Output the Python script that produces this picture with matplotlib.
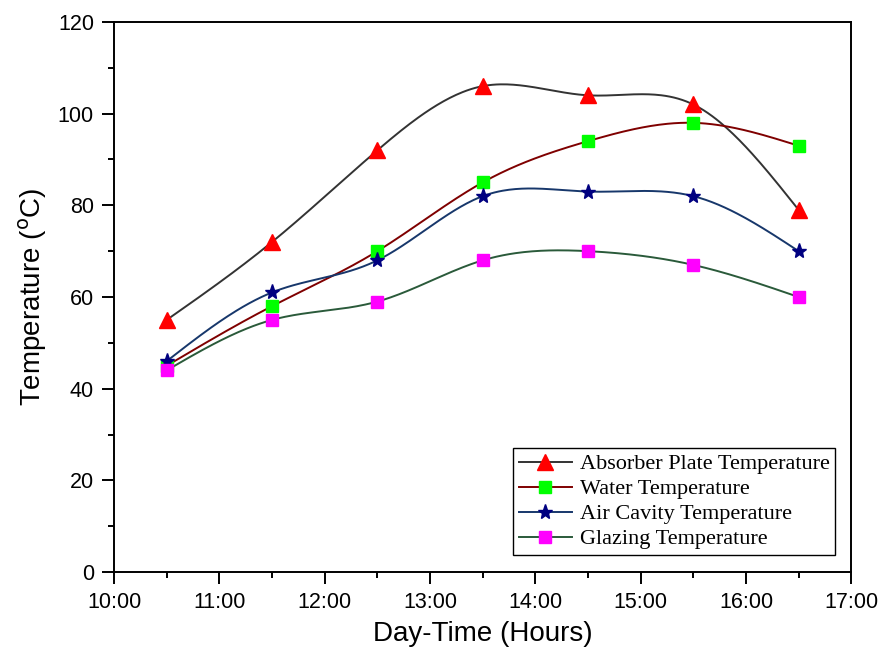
import numpy as np
import matplotlib
matplotlib.use('Agg')
import matplotlib.pyplot as plt
from matplotlib.ticker import MultipleLocator, FuncFormatter

hours = [10.5, 11.5, 12.5, 13.5, 14.5, 15.5, 16.5]
absorber = [55, 72, 92, 106, 104, 102, 79]
water = [45, 58, 70, 85, 94, 98, 93]
air_cavity = [46, 61, 68, 82, 83, 82, 70]
glazing = [44, 55, 59, 68, 70, 67, 60]


def spline(x, y, n=300):
    # natural cubic spline, like Origin's "Spline" connect
    x = np.asarray(x, float)
    y = np.asarray(y, float)
    k = len(x)
    h = np.diff(x)
    A = np.zeros((k, k))
    b = np.zeros(k)
    A[0, 0] = A[-1, -1] = 1
    for i in range(1, k - 1):
        A[i, i - 1] = h[i - 1]
        A[i, i] = 2 * (h[i - 1] + h[i])
        A[i, i + 1] = h[i]
        b[i] = 6 * ((y[i + 1] - y[i]) / h[i] - (y[i] - y[i - 1]) / h[i - 1])
    M = np.linalg.solve(A, b)
    xs = np.linspace(x[0], x[-1], n)
    j = np.clip(np.searchsorted(x, xs) - 1, 0, k - 2)
    t1 = x[j + 1] - xs
    t0 = xs - x[j]
    hj = h[j]
    ys = (M[j] * t1**3 / (6 * hj) + M[j + 1] * t0**3 / (6 * hj)
          + (y[j] / hj - M[j] * hj / 6) * t1
          + (y[j + 1] / hj - M[j + 1] * hj / 6) * t0)
    return xs, ys


fig = plt.figure(figsize=(8.84, 6.6), dpi=100)
ax = fig.add_axes([0.129, 0.1333, 0.834, 0.8334])

series = [
    ('Absorber Plate Temperature', absorber, '#333333', '^', 'red', 11),
    ('Water Temperature', water, '#7f0000', 's', '#00ff00', 8.5),
    ('Air Cavity Temperature', air_cavity, '#17376b', '*', '#000080', 11),
    ('Glazing Temperature', glazing, '#2a5a3a', 's', '#ff00ff', 8.5),
]

for label, vals, lc, mk, mc, ms in series:
    xs, ys = spline(hours, vals)
    ax.plot(xs, ys, color=lc, lw=1.4, zorder=2)
    ax.plot(hours, vals, ls='none', marker=mk, color=mc, mec=mc, ms=ms, zorder=3)
    ax.plot([], [], color=lc, lw=1.4, marker=mk, mfc=mc, mec=mc, ms=ms, label=label)

ax.set_xlim(10, 17)
ax.set_ylim(0, 120)
ax.xaxis.set_major_locator(MultipleLocator(1))
ax.xaxis.set_minor_locator(MultipleLocator(0.5))
ax.yaxis.set_major_locator(MultipleLocator(20))
ax.yaxis.set_minor_locator(MultipleLocator(10))
ax.xaxis.set_major_formatter(FuncFormatter(lambda v, p: '%d:00' % round(v)))

for s in ax.spines.values():
    s.set_linewidth(1.4)
ax.tick_params(which='both', direction='out', width=1.4, top=False, right=False,
               labelsize=15.5, pad=6)
ax.tick_params(which='major', length=8.5)
ax.tick_params(which='minor', length=4.3)
for t in ax.get_xticklabels() + ax.get_yticklabels():
    t.set_family('Liberation Sans')

ax.set_xlabel('Day-Time (Hours)', fontsize=20, family='Liberation Sans', labelpad=6)
ax.set_ylabel('Temperature ($^{\\mathrm{o}}$C)', fontsize=20, family='Liberation Sans', labelpad=6)

leg = ax.legend(loc='lower right', bbox_to_anchor=(0.978, 0.031), borderaxespad=0,
                prop={'family': 'Liberation Serif', 'size': 16},
                fancybox=False, edgecolor='black', framealpha=1,
                labelspacing=0.2, handlelength=2.4, handletextpad=0.35,
                borderpad=0.25)
leg.get_frame().set_linewidth(1.0)

fig.savefig('out.png', dpi=100)
